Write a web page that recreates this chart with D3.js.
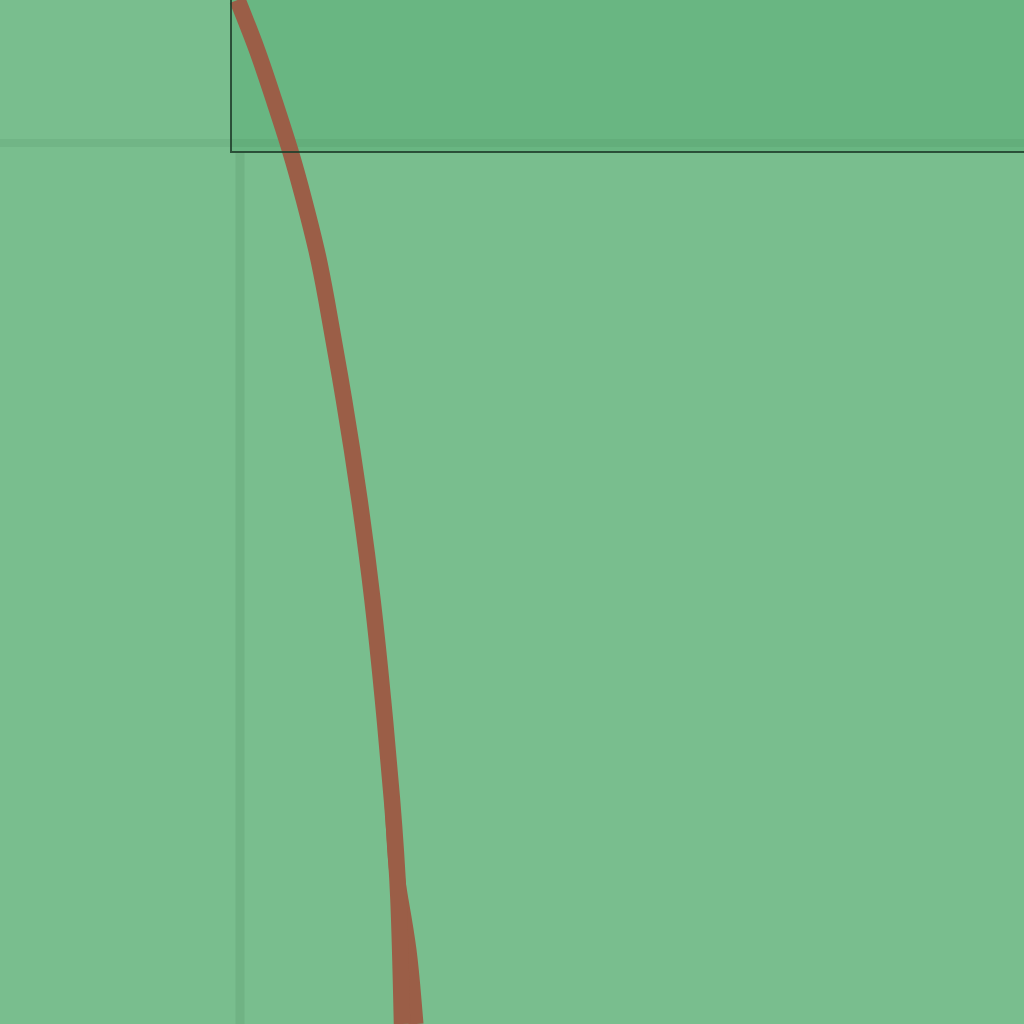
<!DOCTYPE html>
<html>
<head>
<meta charset="utf-8">
<script src="https://cdn.jsdelivr.net/npm/d3@7"></script>
<style>
  html, body { margin: 0; padding: 0; background: #79be8e; }
  svg { display: block; }
</style>
</head>
<body>
<svg width="1024" height="1024"></svg>
<script>
const width = 1024;
const height = 1024;

// main curve (x, y) in data units
const curveX = [0.9975, 1.017, 1.034, 1.050, 1.064, 1.0765, 1.0865, 1.104, 1.1195, 1.1325, 1.143, 1.152, 1.1585, 1.162];
const curveY = [2.143, 2.093, 2.043, 1.993, 1.943, 1.893, 1.843, 1.743, 1.643, 1.543, 1.443, 1.343, 1.243, 1.119];

// second branch near the bottom
const branchX = [1.152, 1.1555, 1.161, 1.169, 1.174, 1.176];
const branchY = [1.343, 1.283, 1.243, 1.193, 1.143, 1.119];

// gridlines
const gridX = [1.0];
const gridY = [2.0];

// highlighted region
const regionX = [0.991, 1.9];
const regionY = [1.991, 2.3];

const x = d3.scaleLinear()
  .domain([0.76, 1.784])
  .range([0, width]);

const y = d3.scaleLinear()
  .domain([2.143, 1.119])
  .range([0, height]);

const svg = d3.select("svg");

svg.append("rect")
  .attr("width", width)
  .attr("height", height)
  .attr("fill", "#79be8e");

// region fill
svg.append("rect")
  .attr("x", x(regionX[0]))
  .attr("y", y(regionY[1]))
  .attr("width", x(regionX[1]) - x(regionX[0]))
  .attr("height", y(regionY[0]) - y(regionY[1]))
  .attr("fill", "#5aae76")
  .attr("opacity", 0.5);

// gridlines
svg.selectAll(".gx")
  .data(gridX)
  .enter()
  .append("line")
  .attr("x1", d => x(d))
  .attr("x2", d => x(d))
  .attr("y1", y(regionY[0]))
  .attr("y2", height)
  .attr("stroke", "#2e6b44")
  .attr("stroke-opacity", 0.12)
  .attr("stroke-width", 9);

svg.selectAll(".gy")
  .data(gridY)
  .enter()
  .append("line")
  .attr("x1", 0)
  .attr("x2", width)
  .attr("y1", d => y(d))
  .attr("y2", d => y(d))
  .attr("stroke", "#2e6b44")
  .attr("stroke-opacity", 0.1)
  .attr("stroke-width", 8);

const line = d3.line()
  .x(d => x(d[0]))
  .y(d => y(d[1]))
  .curve(d3.curveNatural);

svg.append("path")
  .datum(d3.zip(branchX, branchY))
  .attr("d", line)
  .attr("fill", "none")
  .attr("stroke", "#9b5e47")
  .attr("stroke-width", 15);

svg.append("path")
  .datum(d3.zip(curveX, curveY))
  .attr("d", line)
  .attr("fill", "none")
  .attr("stroke", "#9b5e47")
  .attr("stroke-width", 16.5);

// region border (left and bottom edges)
svg.append("path")
  .attr("d", d3.line()([
    [x(regionX[0]), y(regionY[1])],
    [x(regionX[0]), y(regionY[0])],
    [x(regionX[1]), y(regionY[0])]
  ]))
  .attr("fill", "none")
  .attr("stroke", "#1f3d2a")
  .attr("stroke-opacity", 0.85)
  .attr("stroke-width", 2);
</script>
</body>
</html>
